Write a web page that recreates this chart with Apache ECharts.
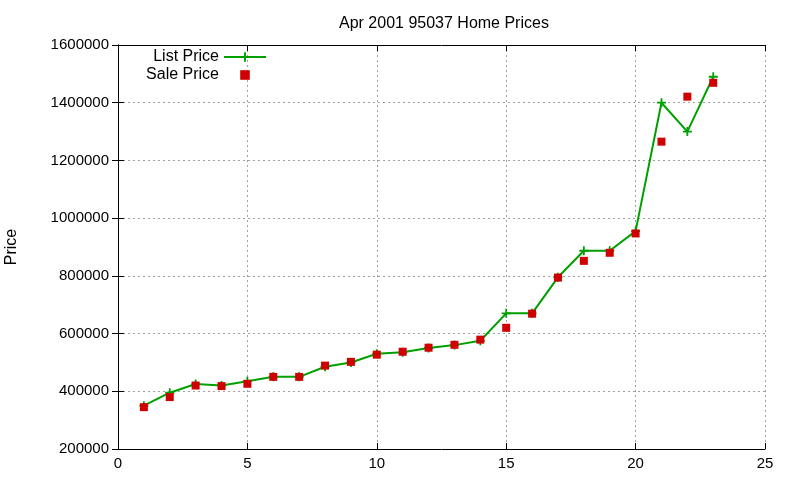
<!DOCTYPE html>
<html lang="en" style="height:100%">
<head>
    <meta charset="UTF-8">
    <title>Apr 2001 95037 Home Prices</title>
    <script src="https://cdn.jsdelivr.net/npm/echarts@6/dist/echarts.min.js"></script>
</head>
<body style="height:100%;margin:0">
<div id="main" style="width:800px;height:480px;"></div>
<script type="text/javascript">
    // house number (1..23) and prices
    var houses = [1, 2, 3, 4, 5, 6, 7, 8, 9, 10, 11, 12, 13, 14, 15, 16, 17, 18, 19, 20, 21, 22, 23];
    var listPrice = [350000, 395000, 425000, 420000, 435000, 450000, 450000, 485000, 500000, 530000,
                     535000, 550000, 560000, 575000, 670000, 670000, 795000, 887000, 887000, 955000,
                     1400000, 1300000, 1490000];
    var salePrice = [345000, 380000, 420000, 418000, 426000, 450000, 450000, 489000, 502000, 527000,
                     537000, 551000, 561000, 579000, 620000, 669000, 794000, 852000, 880000, 947000,
                     1265000, 1421000, 1469000];

    function pairs(xs, ys) {
        return xs.map(function (x, i) { return [x, ys[i]]; });
    }

    var font = 'Liberation Sans, Arial, sans-serif';
    var plus = 'path://M4,0H6V4H10V6H6V10H4V6H0V4H4Z';
    var gridLine = {show: true, lineStyle: {color: '#a0a0a0', type: [2, 3], width: 1}};
    var frame = {show: true, lineStyle: {color: '#000', width: 1}};
    var tickIn = {show: true, inside: true, length: 6, lineStyle: {color: '#000'}};

    var myChart = echarts.init(document.getElementById('main'));
    var option = {
        animation: false,
        backgroundColor: '#fff',
        title: {
            text: 'Apr 2001 95037 Home Prices',
            left: 334,
            top: 11,
            textStyle: {fontFamily: font, fontSize: 16, fontWeight: 'normal', color: '#000'}
        },
        legend: {
            orient: 'vertical',
            right: 533,
            top: 49,
            align: 'right',
            padding: 0,
            itemWidth: 42,
            itemHeight: 12,
            itemGap: 2,
            textStyle: {fontFamily: font, fontSize: 16, color: '#000', lineHeight: 14},
            data: ['List Price', 'Sale Price']
        },
        grid: {left: 118, right: 35, top: 45, bottom: 31, outerBoundsMode: 'none'},
        xAxis: [{
            type: 'value', min: 0, max: 25, interval: 5,
            axisLine: frame, axisTick: tickIn, splitLine: gridLine,
            axisLabel: {fontFamily: font, fontSize: 15, color: '#000', margin: 7}
        }, {
            type: 'value', position: 'top', min: 0, max: 25, interval: 5,
            axisLine: frame, axisTick: tickIn, splitLine: {show: false},
            axisLabel: {show: false}
        }],
        yAxis: [{
            type: 'value', min: 200000, max: 1600000, interval: 200000,
            name: 'Price', nameLocation: 'middle', nameGap: 98, nameRotate: 90,
            nameTextStyle: {fontFamily: font, fontSize: 16, color: '#000'},
            axisLine: frame, axisTick: tickIn, splitLine: gridLine,
            axisLabel: {fontFamily: font, fontSize: 15, color: '#000', margin: 9,
                        formatter: function (v) { return String(v); }}
        }, {
            type: 'value', position: 'right', min: 200000, max: 1600000, interval: 200000,
            axisLine: frame, axisTick: tickIn, splitLine: {show: false},
            axisLabel: {show: false}
        }],
        series: [{
            name: 'List Price',
            type: 'line',
            data: pairs(houses, listPrice),
            symbol: plus,
            symbolSize: 9,
            showSymbol: true,
            itemStyle: {color: '#00a000'},
            lineStyle: {color: '#00a000', width: 2}
        }, {
            name: 'Sale Price',
            type: 'line',
            data: pairs(houses, salePrice),
            symbol: 'rect',
            symbolSize: 8,
            itemStyle: {color: '#d00000'},
            lineStyle: {width: 0, opacity: 0}
        }]
    };
    myChart.setOption(option);
</script>
</body>
</html>
